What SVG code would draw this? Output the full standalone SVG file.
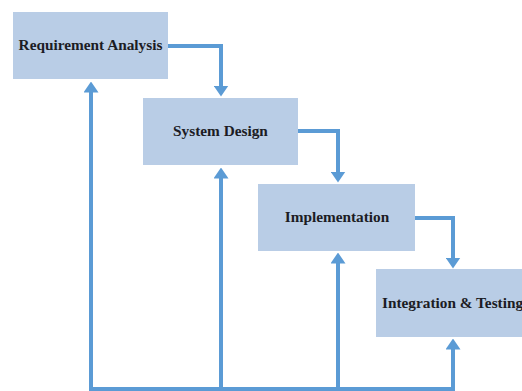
<svg xmlns="http://www.w3.org/2000/svg" width="522" height="391" viewBox="0 0 522 391">
<style>
.box{fill:#b9cde6;}
.lbl{font-family:"Liberation Serif","Times New Roman",serif;font-weight:bold;font-size:15.3px;fill:#1c1c24;text-anchor:middle;}
.ln{fill:none;stroke:#5b9bd5;stroke-width:4;}
</style>
<defs>
<marker id="ah" viewBox="0 0 11 15" refX="0.5" refY="7.5" markerWidth="11" markerHeight="15" markerUnits="userSpaceOnUse" orient="auto">
<path d="M0,0 L11,7.5 L0,15 z" fill="#5b9bd5"/>
</marker>
</defs>
<rect width="522" height="391" fill="#ffffff"/>
<g id="req">
<rect class="box" x="13" y="12" width="155" height="67"/>
<text class="lbl" x="90.5" y="50">Requirement Analysis</text>
</g>
<g id="design">
<rect class="box" x="143" y="98" width="155" height="67"/>
<text class="lbl" x="220.5" y="136">System Design</text>
</g>
<g id="impl">
<rect class="box" x="258" y="184" width="157" height="67"/>
<text class="lbl" x="337" y="222">Implementation</text>
</g>
<g id="test">
<rect class="box" x="376" y="269" width="155" height="68"/>
<text class="lbl" x="382" y="308" style="text-anchor:start">Integration &amp; Testing</text>
</g>
<g id="connectors">
<path class="ln" d="M168,46 H221 V86" marker-end="url(#ah)"/>
<path class="ln" d="M298,131 H338 V172" marker-end="url(#ah)"/>
<path class="ln" d="M415,218 H453 V258" marker-end="url(#ah)"/>
<path class="ln" d="M89,389 H455"/>
<path class="ln" d="M91,391 V92" marker-end="url(#ah)"/>
<path class="ln" d="M221,391 V178" marker-end="url(#ah)"/>
<path class="ln" d="M338,391 V263" marker-end="url(#ah)"/>
<path class="ln" d="M453,391 V349" marker-end="url(#ah)"/>
</g>
</svg>
